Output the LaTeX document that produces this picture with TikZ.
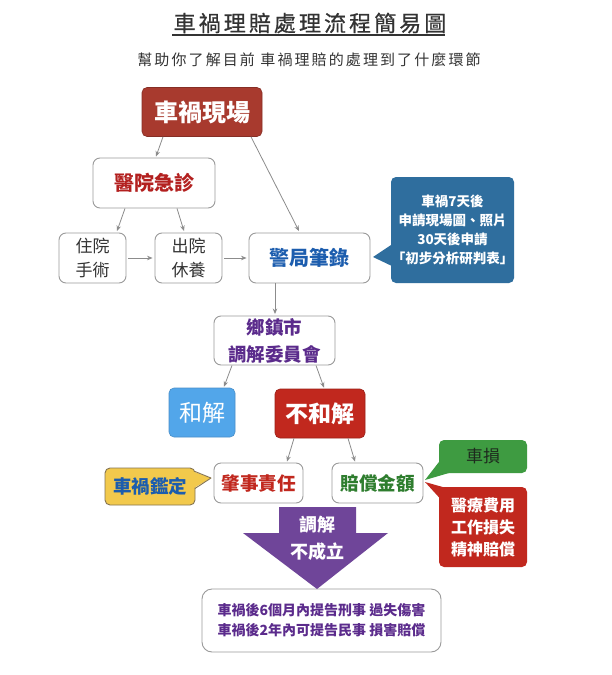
\documentclass[tikz,border=0pt]{standalone}
\usepackage{fontspec}
\setmainfont{Noto Sans CJK TC}
\usetikzlibrary{arrows.meta}
\definecolor{titlec}{HTML}{333333}
\definecolor{boxline}{HTML}{9A9A9A}
\definecolor{arrc}{HTML}{8C8C8C}
\definecolor{scenec}{HTML}{A83A2E}
\definecolor{hospc}{HTML}{B3201F}
\definecolor{policec}{HTML}{1C5DAE}
\definecolor{bluec}{HTML}{2F6E9E}
\definecolor{mediac}{HTML}{5B2B8C}
\definecolor{settlec}{HTML}{52A6EA}
\definecolor{settleb}{HTML}{4A8FC8}
\definecolor{redc}{HTML}{C1281E}
\definecolor{greentc}{HTML}{2E7D2E}
\definecolor{yellowc}{HTML}{F2C94C}
\definecolor{yellowb}{HTML}{857451}
\definecolor{greenc}{HTML}{3E9B41}
\definecolor{purplec}{HTML}{6F4599}
\definecolor{darkt}{HTML}{1E2A1E}
\tikzset{
  wbox/.style={draw=boxline, line width=0.9pt, rounded corners=7pt, fill=white, inner sep=0pt, align=center},
  cbox/.style={rounded corners=5pt, inner sep=0pt, align=center},
  arr/.style={draw=arrc, line width=0.8pt, -{Stealth[length=5.5pt,width=4.5pt]}},
}
\begin{document}
\begin{tikzpicture}[x=1pt,y=-1pt]
\useasboundingbox[fill=white] (0,0) rectangle (612,675);

% title
\node[text=titlec, inner sep=0pt, font=\fontsize{22}{26}\selectfont\addfontfeature{LetterSpace=14,FakeBold=0.6}] (title) at (310,23) {車禍理賠處理流程簡易圖};
\draw[titlec, line width=2pt] (172,35) -- (445,35);
\node[text=titlec, inner sep=0pt, font=\fontsize{15}{18}\selectfont\addfontfeature{LetterSpace=14}] (subtitle) at (309,60) {幫助你了解目前 車禍理賠的處理到了什麼環節};

% main boxes
\node[cbox, fill=scenec, draw=scenec!80!black, line width=0.6pt, minimum width=120pt, minimum height=49pt, text=white, font=\fontsize{24}{28}\selectfont\bfseries] (scene) at (202,112) {車禍現場};
\node[wbox, minimum width=122pt, minimum height=50pt, text=hospc, font=\fontsize{20}{24}\selectfont\bfseries] (hosp) at (154,183) {醫院急診};
\node[wbox, minimum width=67pt, minimum height=50pt, text=titlec, font=\fontsize{17}{24}\selectfont] (stay) at (92.5,258) {住院\\手術};
\node[wbox, minimum width=67pt, minimum height=50pt, text=titlec, font=\fontsize{17}{24}\selectfont] (rest) at (188.5,258) {出院\\休養};
\node[wbox, minimum width=121pt, minimum height=50pt, text=policec, font=\fontsize{20}{24}\selectfont\bfseries] (police) at (309.5,258) {警局筆錄};

% blue callout
\node[cbox, fill=bluec, minimum width=123pt, minimum height=106pt, text=white, font=\fontsize{13.5}{19}\selectfont\bfseries] (note) at (452.5,230) {車禍7天後\\申請現場圖、照片\\30天後申請\\「初步分析研判表」};
\fill[bluec] (394,243) -- (373,257) -- (394,267) -- cycle;

\node[wbox, minimum width=121pt, minimum height=49pt, text=mediac, font=\fontsize{18.5}{27}\selectfont\bfseries] (media) at (274.5,340.5) {鄉鎮市\\調解委員會};

\node[cbox, fill=settlec, draw=settleb, line width=0.6pt, minimum width=66pt, minimum height=49pt, text=white, font=\fontsize{23}{27}\selectfont] (settle) at (202,412.5) {和解};
\node[cbox, fill=redc, draw=redc!80!black, line width=0.6pt, minimum width=90pt, minimum height=49pt, text=white, font=\fontsize{23}{27}\selectfont\bfseries] (nosettle) at (320,413.5) {不和解};

\node[wbox, minimum width=89pt, minimum height=40pt, text=redc, font=\fontsize{18.5}{22}\selectfont\bfseries] (fault) at (258.5,483) {肇事責任};
\node[wbox, minimum width=91pt, minimum height=40pt, text=greentc, font=\fontsize{18.5}{22}\selectfont\bfseries] (comp) at (377.5,483) {賠償金額};

% yellow callout
\node[cbox, fill=yellowc, draw=yellowb, line width=0.9pt, minimum width=90pt, minimum height=37pt, text=policec, font=\fontsize{18.5}{22}\selectfont\bfseries] (appraise) at (150,486.5) {車禍鑑定};
\fill[yellowc] (193,471.5) -- (211,478) -- (193,488.5) -- cycle;
\draw[yellowb, line width=0.9pt, line join=round] (195,471.5) -- (211,478) -- (195,488.5);

% green callout
\node[cbox, fill=greenc, minimum width=88pt, minimum height=33pt, text=darkt, font=\fontsize{17}{20}\selectfont] (cardmg) at (483,456.5) {車損};
\fill[greenc] (440.5,460) -- (425,480) -- (454,471.5) -- cycle;

% red callout
\node[cbox, fill=redc, minimum width=88pt, minimum height=80pt, text=white, font=\fontsize{16}{22}\selectfont\bfseries] (medical) at (483,527) {醫療費用\\工作損失\\精神賠償};
\fill[redc] (440.5,499) -- (425,482) -- (448,488.5) -- cycle;

% result box
\node[wbox, minimum width=239pt, minimum height=63pt, rounded corners=10pt, text=mediac, font=\fontsize{14}{20}\selectfont\bfseries] (result) at (321.5,620.5) {車禍後6個月內提告刑事 過失傷害\\車禍後2年內可提告民事 損害賠償};

% purple arrow
\fill[purplec] (279,507) -- (356,507) -- (356,533) -- (388,533) -- (317,589) -- (243,533) -- (279,533) -- cycle;
\node[inner sep=0pt, align=center, text=white, font=\fontsize{18}{27}\selectfont\bfseries] (fail) at (317,538.5) {調解\\不成立};

% connectors
\draw[arr] ([xshift=-39pt]scene.south) -- ([xshift=2pt,yshift=1pt]hosp.north);
\draw[arr] ([xshift=49pt]scene.south) -- ([xshift=-10.5pt,yshift=1.5pt]police.north);
\draw[arr] ([xshift=-29pt]hosp.south) -- ([xshift=24.5pt,yshift=1.5pt]stay.north);
\draw[arr] ([xshift=23pt]hosp.south) -- ([xshift=-4.5pt,yshift=1.5pt]rest.north);
\draw[arr] ([xshift=2pt]stay.east) -- ([xshift=-2pt]rest.west);
\draw[arr] ([xshift=2pt]rest.east) -- ([xshift=-2pt]police.west);
\draw[arr] ([xshift=-34.5pt]police.south) -- ([xshift=0.5pt,yshift=1.5pt]media.north);
\draw[arr] ([xshift=-42.5pt]media.south) -- ([xshift=22pt,yshift=1pt]settle.north);
\draw[arr] ([xshift=41.5pt]media.south) -- ([xshift=4pt,yshift=1pt]nosettle.north);
\draw[arr] ([xshift=-26pt]nosettle.south) -- ([xshift=28.5pt,yshift=1pt]fault.north);
\draw[arr] ([xshift=28pt]nosettle.south) -- ([xshift=-22.5pt,yshift=1pt]comp.north);
\end{tikzpicture}
\end{document}
